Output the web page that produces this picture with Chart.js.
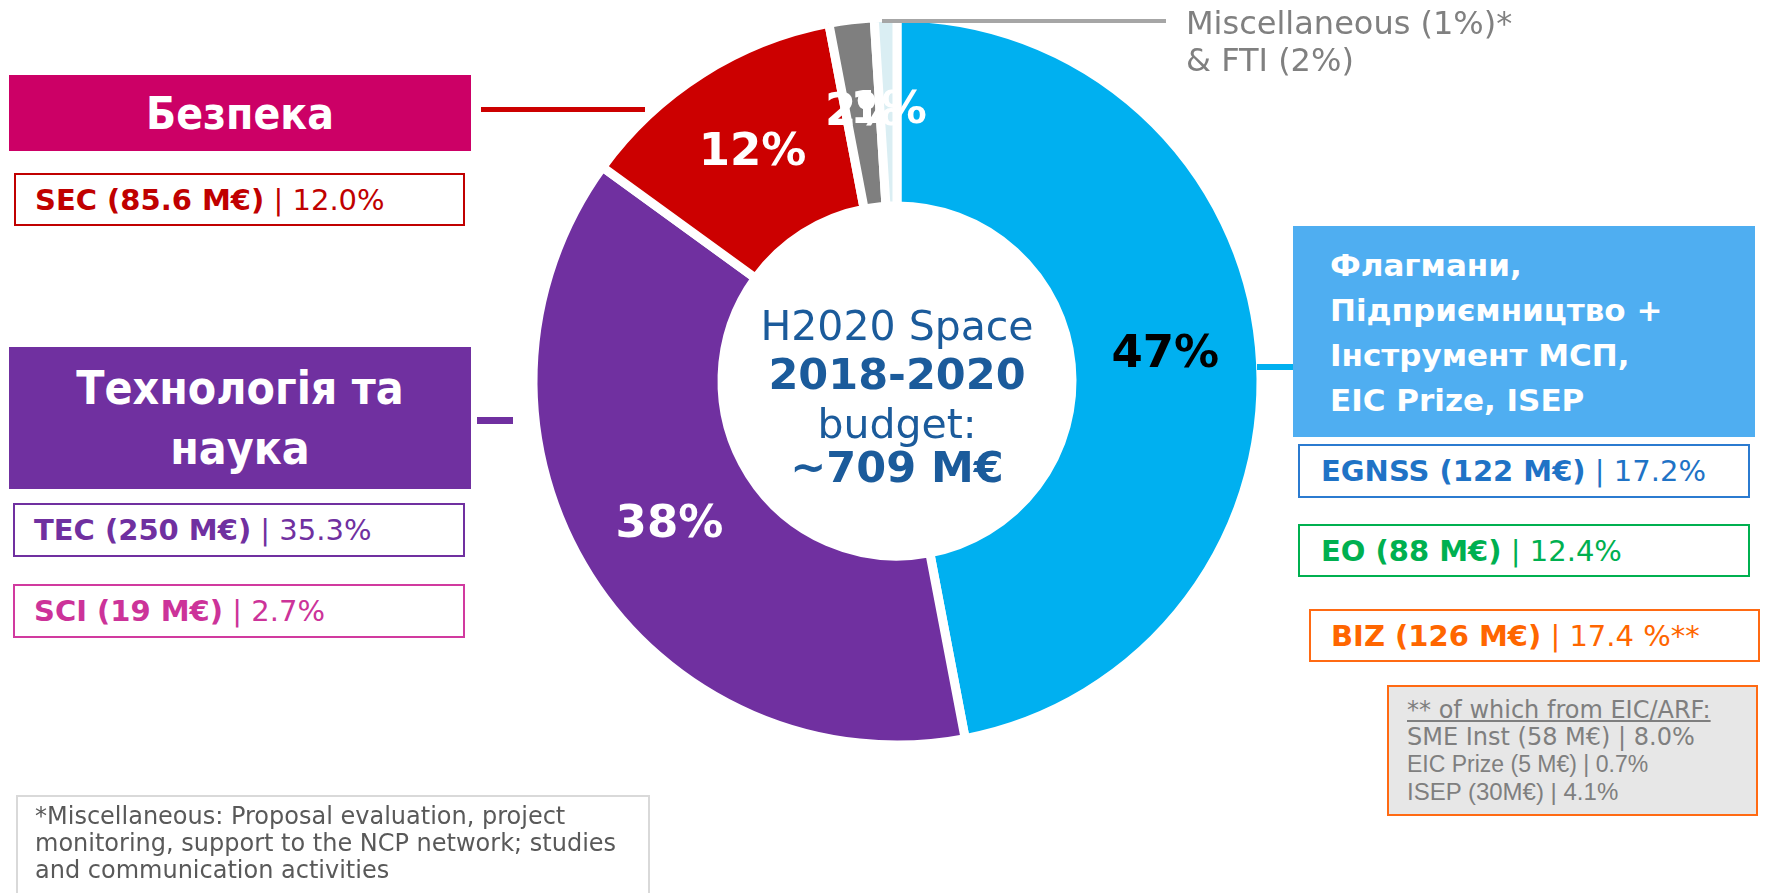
<!DOCTYPE html>
<html>
<head>
<meta charset="utf-8">
<script src="https://cdn.jsdelivr.net/npm/chart.js@4"></script>
<style>
  html, body { margin: 0; padding: 0; background: #fff; }
  #wrap { position: relative; width: 1767px; height: 893px; overflow: hidden; font-family: "DejaVu Sans", Verdana, sans-serif; }
  #chart { position: absolute; left: 0; top: 0; }
  .abs { position: absolute; box-sizing: border-box; }
  .title { color: #fff; font-family: "DejaVu Sans Condensed", "DejaVu Sans", sans-serif; font-weight: bold; display: flex; align-items: center; justify-content: center; text-align: center; }
  .tag { border: 2px solid; background: #fff; display: flex; align-items: center; font-size: 29px; white-space: nowrap; }
  .tag b { font-weight: bold; }
  .line { position: absolute; }
</style>
</head>
<body>
<div id="wrap">
  <canvas id="chart" width="1767" height="893"></canvas>

  <!-- left side -->
  <div class="abs title" style="left:9px;top:75px;width:462px;height:76px;background:#cc0066;font-size:44px;">Безпека</div>
  <div class="line" style="left:481px;top:107px;width:164px;height:5px;background:#cc0000;"></div>
  <div class="abs tag" style="left:14px;top:173px;width:451px;height:53px;border-color:#c00000;color:#c00000;padding-left:19px;"><b>SEC (85.6 M€)</b>&nbsp;| 12.0%</div>

  <div class="abs title" style="left:9px;top:347px;width:462px;height:142px;background:#7030a0;font-size:46px;line-height:60px;">Технологія та<br>наука</div>
  <div class="line" style="left:477px;top:417px;width:36px;height:7px;background:#7030a0;"></div>
  <div class="abs tag" style="left:13px;top:503px;width:452px;height:54px;border-color:#7030a0;color:#7030a0;padding-left:19px;"><b>TEC (250 M€)</b>&nbsp;| 35.3%</div>
  <div class="abs tag" style="left:13px;top:584px;width:452px;height:54px;border-color:#d13a9f;color:#cc3399;padding-left:19px;"><b>SCI (19 M€)</b>&nbsp;| 2.7%</div>

  <!-- right side -->
  <div class="abs title" style="left:1293px;top:226px;width:462px;height:211px;background:#4faef1;font-family:'DejaVu Sans',sans-serif;font-size:31px;line-height:45px;justify-content:flex-start;text-align:left;padding-left:37px;padding-top:2px;">Флагмани,<br>Підприємництво +<br>Інструмент МСП,<br>EIC Prize, ISEP</div>
  <div class="line" style="left:1257px;top:364px;width:36px;height:6px;background:#00b0f0;"></div>
  <div class="abs tag" style="left:1298px;top:444px;width:452px;height:54px;border-color:#2b7bd0;color:#1f73c6;padding-left:21px;"><b>EGNSS (122 M€)</b>&nbsp;| 17.2%</div>
  <div class="abs tag" style="left:1298px;top:524px;width:452px;height:53px;border-color:#00b050;color:#00b050;padding-left:21px;"><b>EO (88 M€)</b>&nbsp;| 12.4%</div>
  <div class="abs tag" style="left:1309px;top:609px;width:451px;height:53px;border-color:#ff6a13;color:#ff6600;padding-left:20px;"><b>BIZ (126 M€)</b>&nbsp;| 17.4 %**</div>
  <div class="abs" style="left:1387px;top:685px;width:371px;height:131px;background:#e7e7e7;border:2px solid #ff6a13;color:#7f7f7f;padding:10px 0 0 18px;font-size:24px;line-height:27px;white-space:nowrap;">
    <div style="text-decoration:underline;">** of which from EIC/ARF:</div>
    <div>SME Inst (58 M€) | 8.0%</div>
    <div style="font-family:'Liberation Sans',Arial,sans-serif;font-size:23px;">EIC Prize (5 M€) | 0.7%</div>
    <div style="font-family:'Liberation Sans',Arial,sans-serif;font-size:24px;">ISEP (30M€) | 4.1%</div>
  </div>

  <!-- misc label at the top -->
  <div class="line" style="left:882px;top:19px;width:284px;height:4px;background:#a6a6a6;"></div>
  <div class="abs" style="left:1186px;top:5px;color:#808080;font-size:32px;line-height:37px;">Miscellaneous (1%)*<br>&amp; FTI (2%)</div>

  <!-- footnote -->
  <div class="abs" style="left:16px;top:795px;width:634px;height:120px;border:2px solid #d9d9d9;color:#595959;font-size:24px;line-height:27px;padding:6px 0 0 17px;white-space:nowrap;">*Miscellaneous: Proposal evaluation, project<br>monitoring, support to the NCP network; studies<br>and communication activities</div>
</div>

<script>
// budget shares, clockwise from 12 o'clock
const segments = ['Флагмани, Підприємництво', 'Технологія та наука', 'Безпека', 'Miscellaneous', 'FTI'];
const shares = [47, 38, 12, 2, 1];
const sliceColors = ['#00b0f0', '#7030a0', '#cc0000', '#7f7f7f', '#daeef3'];
const labelColors = ['#000000', '#ffffff', '#ffffff', '#ffffff', '#ffffff'];
const centerLines = [
    { text: 'H2020 Space', bold: false, dy: -41 },
    { text: '2018-2020', bold: true, dy: 8 },
    { text: 'budget:', bold: false, dy: 57 },
    { text: '~709 M€', bold: true, dy: 101 },
];

// percent labels drawn on each arc, plus the text in the hole
const sliceLabels = {
    id: 'sliceLabels',
    afterDatasetsDraw(chart) {
        const ctx = chart.ctx;
        const meta = chart.getDatasetMeta(0);
        ctx.save();
        ctx.textAlign = 'center';
        ctx.textBaseline = 'middle';
        ctx.font = 'bold 45px "DejaVu Sans"';
        meta.data.forEach((arc, i) => {
            const pos = arc.tooltipPosition();
            ctx.fillStyle = labelColors[i];
            ctx.fillText(shares[i] + '%', pos.x, pos.y);
        });
        const cx = meta.data[0].x;
        const cy = meta.data[0].y;
        ctx.fillStyle = '#1b5b9b';
        ctx.textBaseline = 'alphabetic';
        centerLines.forEach(l => {
            ctx.font = (l.bold ? 'bold 43px' : '41px') + ' "DejaVu Sans"';
            ctx.fillText(l.text, cx, cy + l.dy);
        });
        ctx.restore();
    }
};

new Chart(document.getElementById('chart'), {
    type: 'doughnut',
    data: {
        labels: segments,
        datasets: [{
            data: shares,
            backgroundColor: sliceColors,
            borderColor: '#ffffff',
            borderWidth: 9,
        }],
    },
    options: {
        responsive: false,
        animation: false,
        radius: 364,
        cutout: 181,
        layout: {
            padding: { left: 140, right: 113, top: 0, bottom: 131 },
        },
        plugins: {
            legend: { display: false },
            tooltip: { enabled: false },
        },
    },
    plugins: [sliceLabels],
});
</script>
</body>
</html>
